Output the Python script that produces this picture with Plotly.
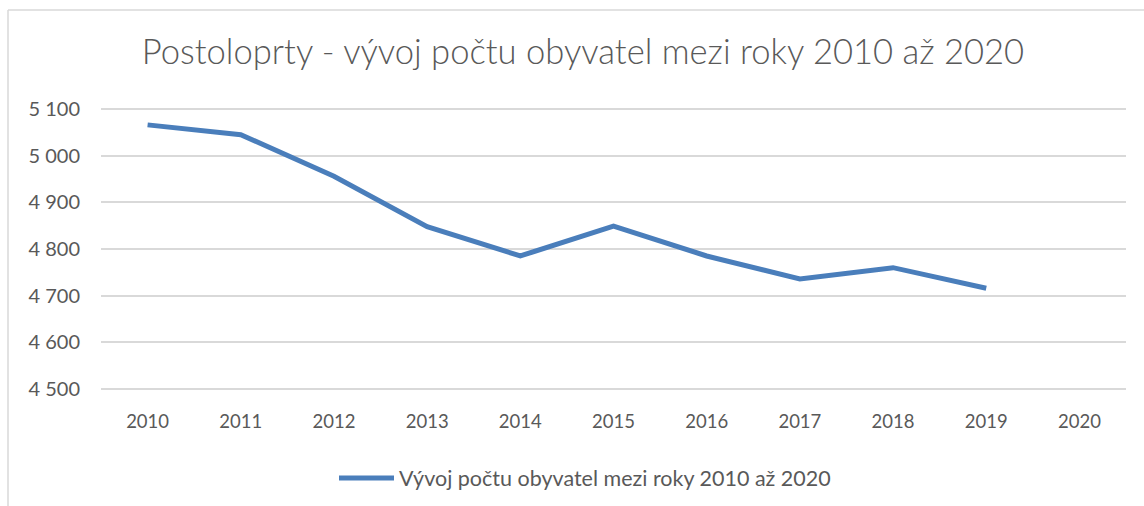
import plotly.graph_objects as go

years = ["2010", "2011", "2012", "2013", "2014", "2015", "2016", "2017", "2018", "2019", "2020"]
population = [5066, 5045, 4956, 4848, 4785, 4849, 4785, 4736, 4760, 4716, None]
y_ticks = [4500, 4600, 4700, 4800, 4900, 5000, 5100]
y_tick_labels = ["4\u2005500", "4\u2005600", "4\u2005700", "4\u2005800", "4\u2005900", "5\u2005000", "5\u2005100"]
series_name = "Vývoj počtu obyvatel mezi roky 2010 až 2020"
title_text = "Postoloprty - vývoj počtu obyvatel mezi roky 2010 až 2020"

# plot area: 5100 at y=109 px, 4500 at y=389 px, padded by 2 px each side
PAD = 2
PX_PER_UNIT = 280 / 600
pad_units = PAD / PX_PER_UNIT
plot_h = 280 + 2 * PAD

fig = go.Figure()
fig.add_trace(go.Scatter(
    x=years, y=population, mode="lines", name=series_name,
    line=dict(color="#4a7ebb", width=5), connectgaps=False,
))

fig.update_layout(
    width=1144, height=506, autosize=False,
    margin=dict(l=101, r=18, t=109 - PAD, b=117 - PAD, autoexpand=False),
    paper_bgcolor="white", plot_bgcolor="white",
    font=dict(family="Lato", color="#595959", size=18),
    title=dict(text=title_text, x=583 / 1144, xanchor="center", xref="container",
               y=1 - 52 / 506, yref="container", yanchor="middle",
               font=dict(family="Lato", size=34.6, color="#595959", weight=300)),
    showlegend=True,
    legend=dict(orientation="h", x=(585 - 101) / 1025, xanchor="center",
                y=-(85 + PAD) / plot_h, yanchor="middle", font=dict(size=21.5, color="#595959"),
                itemwidth=55),
    xaxis=dict(type="category", range=[-0.5, 10.5], showgrid=False, zeroline=False,
               showline=False, ticks="", ticklabelstandoff=19 - PAD, automargin=False,
               tickangle=0, tickfont=dict(size=18.5, color="#595959")),
    yaxis=dict(range=[4500 - pad_units, 5100 + pad_units], tickvals=y_ticks, ticktext=y_tick_labels,
               showgrid=True, gridcolor="#d9d9d9", gridwidth=1.5, automargin=False,
               zeroline=False, showline=False, ticks="", ticklabelstandoff=20,
               tickfont=dict(size=20, color="#595959")),
    shapes=[
        dict(type="line", xref="paper", yref="paper", x0=-93/1025, x1=1.1,
             y0=(389 + PAD - 10) / plot_h, y1=(389 + PAD - 10) / plot_h,
             line=dict(color="#d9d9d9", width=1.5)),
        dict(type="line", xref="paper", yref="paper", x0=-93/1025, x1=-93/1025,
             y0=(389 + PAD - 10) / plot_h, y1=-0.5,
             line=dict(color="#d9d9d9", width=1.5)),
    ],
)

fig.write_html("out.html", post_script="document.body.style.margin='0px';",
               config={"displayModeBar": False})
